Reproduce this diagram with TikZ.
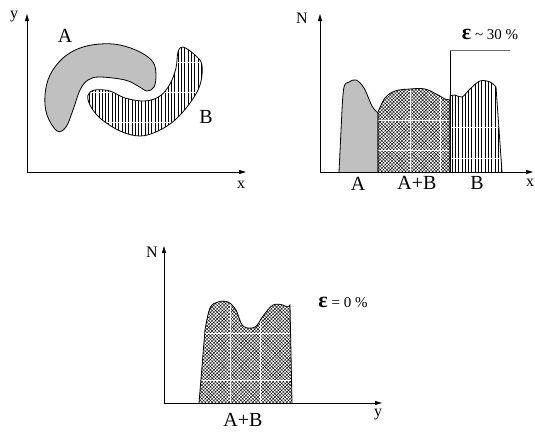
\documentclass[tikz,border=0pt]{standalone}
\usepackage{fontspec}
\setmainfont{Liberation Serif}
\usetikzlibrary{arrows.meta, patterns.meta}
\definecolor{blobgray}{RGB}{192,192,192}
\definecolor{markgray}{RGB}{110,110,110}
\tikzset{
  axis/.style={-{Triangle[length=7pt,width=4pt]}, line width=0.9pt},
  outline/.style={draw=black, line width=0.8pt},
  solidfill/.style={fill=blobgray},
  stripefill/.style={pattern={Lines[angle=90,distance=3.3pt,line width=1pt]}},
  checkfill/.style={pattern={Hatch[angle=45,distance=2.4pt,line width=0.4pt]}},
  gridline/.style={white, line width=0.9pt},
  whitegrid/.style 2 args={path picture={
      \foreach \gx in {#1} \draw[gridline] (\gx,0) -- (\gx,431);
      \foreach \gy in {#2} \draw[gridline] (0,\gy) -- (535,\gy);}},
  lbl/.style={font=\fontsize{20}{21}\selectfont, inner sep=0pt},
  axlbl/.style={font=\fontsize{16}{17}\selectfont, inner sep=0pt},
  eps/.style={font=\fontsize{15}{16}\selectfont, inner sep=0pt}
}
\newcommand{\epsglyph}{{\fontsize{22}{22}\selectfont\bfseries ε}}

\begin{document}
\begin{tikzpicture}[x=1pt, y=-1pt]
  \useasboundingbox (0,0) rectangle (535,431);

  % Panel 1: the two objects in the x-y plane
  \coordinate (o1) at (27,172);
  \coordinate (y1) at (27,14);
  \coordinate (x1) at (246,172);
  \draw[axis] (o1) -- (y1);
  \draw[axis] (o1) -- (x1);
  \node[axlbl] (ylab1) at (14,17) {y};
  \node[axlbl] (xlab1) at (241,185) {x};

  \path[outline, solidfill] plot[smooth cycle, tension=0.6] coordinates {
    (57,131) (47,115) (45,95) (50,75) (63,58) (80,48) (100,44) (120,45)
    (140,52) (153,62) (156,75) (154,87) (147,91) (138,86) (125,80)
    (100,77) (88,80) (80,90) (73,110) (66,127)};
  \path[outline, stripefill, whitegrid={-10}{62,92,122}]
    plot[smooth cycle, tension=0.6] coordinates {
    (88,95) (95,90) (110,91) (125,98) (145,101) (160,96) (170,84)
    (176,68) (178,52) (183,47) (195,55) (202,65) (200,85) (190,103)
    (175,120) (158,131) (140,136) (120,131) (100,118) (90,105)};
  \node[lbl] (labA) at (65,36) {A};
  \node[lbl] (labB) at (206,117) {B};

  % Panel 2: distribution along x
  \coordinate (o2) at (320,172);
  \coordinate (n2) at (320,14);
  \coordinate (x2) at (533,172);
  \path[outline, solidfill] (339,172) -- plot[smooth, tension=0.6] coordinates {
    (342,110) (344,87) (349,82) (356,80) (364,88) (372,106) (378,113)}
    -- (378,172);
  \path[outline, checkfill, whitegrid={410,440}{120,150}]
    (378,172) -- plot[smooth, tension=0.6] coordinates {
    (378,112) (385,98) (395,91) (410,89) (425,89) (438,95) (445,99) (450,100)}
    -- (450,172);
  \path[outline, stripefill, whitegrid={-10}{127,158}]
    (450,172) -- plot[smooth, tension=0.6] coordinates {
    (450,96) (455,95) (462,97) (470,89) (480,81) (490,82) (496,87)}
    -- (502,172);
  \draw[axis] (o2) -- (n2);
  \draw[axis] (o2) -- (x2);
  \node[axlbl] (nlab2) at (302,18) {N};
  \node[axlbl] (xlab2) at (530,183) {x};

  \coordinate (cut) at (450,172);
  \coordinate (cuttop) at (450,50);
  \coordinate (cutend) at (510,50);
  \draw[line width=0.8pt] (cut) -- (cuttop);
  \draw[markgray, line width=1pt] (cuttop) -- (cutend);
  \node[eps] (eps30) at (490,34) {\epsglyph\ \textasciitilde\ 30 \%};

  \node[lbl] (labA2) at (358,184) {A};
  \node[lbl] (labAB2) at (417,183) {A+B};
  \node[lbl] (labB2) at (477,183) {B};

  % Panel 3: distribution along y
  \coordinate (o3) at (164,403);
  \coordinate (n3) at (164,246);
  \coordinate (y3) at (382,403);
  \path[outline, checkfill, whitegrid={230,260}{333,380}]
    (199,403) -- plot[smooth, tension=0.6] coordinates {
    (205,330) (210,308) (218,302) (228,302) (236,310) (243,326) (255,327)
    (263,316) (273,305) (283,305) (287,307) (290,305)}
    -- (292,403);
  \draw[axis] (o3) -- (n3);
  \draw[axis] (o3) -- (y3);
  \node[axlbl] (nlab3) at (152,252) {N};
  \node[axlbl] (ylab3) at (378,415) {y};
  \node[eps] (eps0) at (343,302) {\epsglyph\ = 0 \%};
  \node[lbl] (labAB3) at (243,420) {A+B};
\end{tikzpicture}
\end{document}
